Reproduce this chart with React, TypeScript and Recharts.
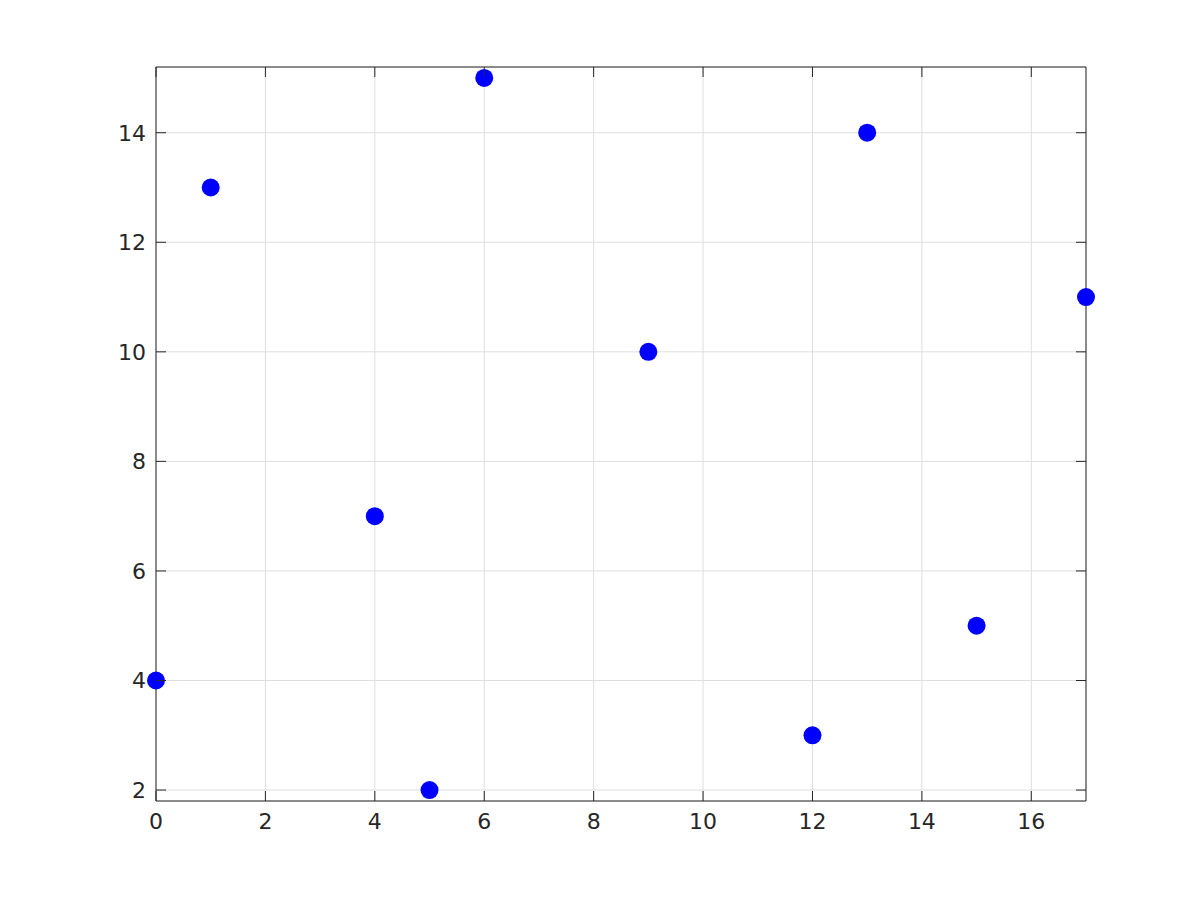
import React from 'react';
import { ScatterChart, Scatter, XAxis, YAxis, CartesianGrid, ReferenceArea } from 'recharts';

const xValues = [0, 1, 4, 5, 6, 9, 12, 13, 15, 17];
const yValues = [4, 13, 7, 2, 15, 10, 3, 14, 5, 11];
const xTicks = [0, 2, 4, 6, 8, 10, 12, 14, 16];
const yTicks = [2, 4, 6, 8, 10, 12, 14];

const data = xValues.map((x, i) => ({ x, y: yValues[i] }));

const TOP = 67;
const BOTTOM = 801;
const LEFT = 156;
const RIGHT = 1086;
const TICK = 10;
const AX = '#262626';
const FONT = '"DejaVu Sans", sans-serif';
const FS = 22;

const XTick = (props: any) => {
  const { x, payload } = props;
  return (
    <g>
      <line x1={x} x2={x} y1={BOTTOM} y2={BOTTOM - TICK} stroke={AX} strokeWidth={1} />
      <line x1={x} x2={x} y1={TOP} y2={TOP + TICK} stroke={AX} strokeWidth={1} />
      <text x={x} y={BOTTOM + 28} textAnchor="middle" fill={AX} style={{ fontSize: FS, fontFamily: FONT }}>
        {payload.value}
      </text>
    </g>
  );
};

const YTick = (props: any) => {
  const { y, payload } = props;
  return (
    <g>
      <line x1={LEFT} x2={LEFT + TICK} y1={y} y2={y} stroke={AX} strokeWidth={1} />
      <line x1={RIGHT} x2={RIGHT - TICK} y1={y} y2={y} stroke={AX} strokeWidth={1} />
      <text x={LEFT - 10} y={y + 8} textAnchor="end" fill={AX} style={{ fontSize: FS, fontFamily: FONT }}>
        {payload.value}
      </text>
    </g>
  );
};

export default function App() {
  return (
    <div style={{ position: 'absolute', left: 0, top: 0, width: 1200, height: 900, background: '#fff' }}>
      <ScatterChart width={1200} height={900} margin={{ top: TOP, right: 1200 - RIGHT, bottom: 900 - BOTTOM - 40, left: LEFT - 60 }}>
        <CartesianGrid stroke="#dfdfdf" strokeWidth={1} />
        <XAxis
          type="number"
          dataKey="x"
          domain={[0, 17]}
          ticks={xTicks}
          height={40}
          axisLine={false}
          tickLine={false}
          tick={<XTick />}
          interval={0}
        />
        <YAxis
          type="number"
          dataKey="y"
          domain={[1.8, 15.2]}
          ticks={yTicks}
          width={60}
          axisLine={false}
          tickLine={false}
          tick={<YTick />}
          interval={0}
        />
        <ReferenceArea x1={0} x2={17} y1={1.8} y2={15.2} fill="none" fillOpacity={0} stroke={AX} strokeWidth={1} />
        <Scatter
          data={data}
          fill="#0000ff"
          isAnimationActive={false}
          shape={(p: any) => <circle cx={p.cx} cy={p.cy} r={9} fill="#0000ff" />}
        />
      </ScatterChart>
    </div>
  );
}
